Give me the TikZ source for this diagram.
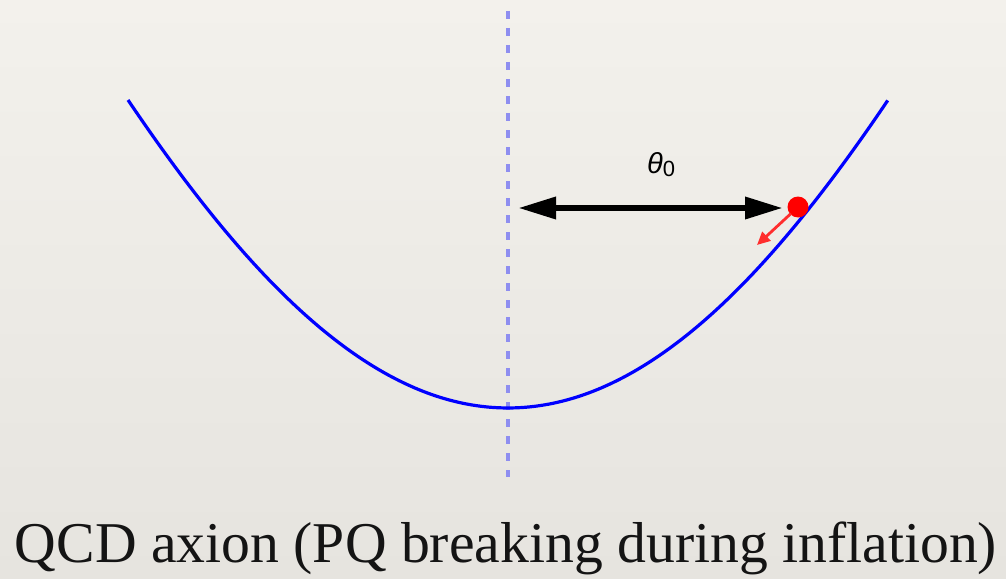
\documentclass[tikz,border=0pt]{standalone}
\usepackage{fontspec}
\usepackage{graphicx}
\newfontfamily\labelfont{Liberation Sans}
\newfontfamily\titlefont{Liberation Serif}
\usetikzlibrary{arrows.meta}
\definecolor{bgtop}{HTML}{F3F1EC}
\definecolor{bgbot}{HTML}{E6E4DF}
\definecolor{axisblue}{RGB}{142,142,240}
\definecolor{curveblue}{RGB}{0,0,255}
\definecolor{kickred}{RGB}{255,45,45}
\definecolor{balred}{RGB}{255,0,0}
\definecolor{titleink}{HTML}{141414}
\tikzset{
  axisline/.style={axisblue, line width=4pt, dash pattern=on 8pt off 9pt},
  potential/.style={curveblue, line width=3.2pt},
  bigarrow/.style={black, line width=6.5pt, {Triangle[length=38pt,width=21pt]}-{Triangle[length=38pt,width=21pt]}},
  ball/.style={circle, fill=balred, inner sep=0pt, minimum size=21pt},
  kick/.style={kickred, line width=2.8pt, -{Triangle[length=13pt,width=12pt]}, shorten <=-1pt},
}
\begin{document}
\begin{tikzpicture}[x=1pt,y=-1pt]
\shade[top color=bgtop,bottom color=bgbot] (0,0) rectangle (1006,578);
\useasboundingbox (0,0) rectangle (1006,578);
% symmetry axis
\coordinate (axtop) at (508,11);
\coordinate (axbot) at (508,477);
\draw[axisline] (axtop) -- (axbot);
% potential
\draw[potential, domain=-1:1, samples=120, smooth]
  plot ({508+380*\x}, {408-308*(1-cos(\x r))/(1-cos(1 r))});
% displacement arrow
\coordinate (aL) at (518,208);
\coordinate (aR) at (783,208);
\draw[bigarrow] (aL) -- (aR);
\node[anchor=base, inner sep=0pt, font=\labelfont\fontsize{29}{30}\selectfont] (theta) at (661,173)
  {\itshape θ\upshape\raisebox{-3pt}{\fontsize{22}{22}\selectfont 0}};
% ball and kick
\coordinate (kickend) at (757,245);
\node[ball] (ball) at (798,207) {};
\draw[kick] (ball) -- (kickend);
% title
\node[anchor=base, inner sep=0pt, text=titleink] (title) at (506,562)
  {\resizebox{982pt}{!}{\titlefont\fontsize{56}{60}\selectfont QCD axion (PQ breaking during inflation)}};
\end{tikzpicture}
\end{document}
